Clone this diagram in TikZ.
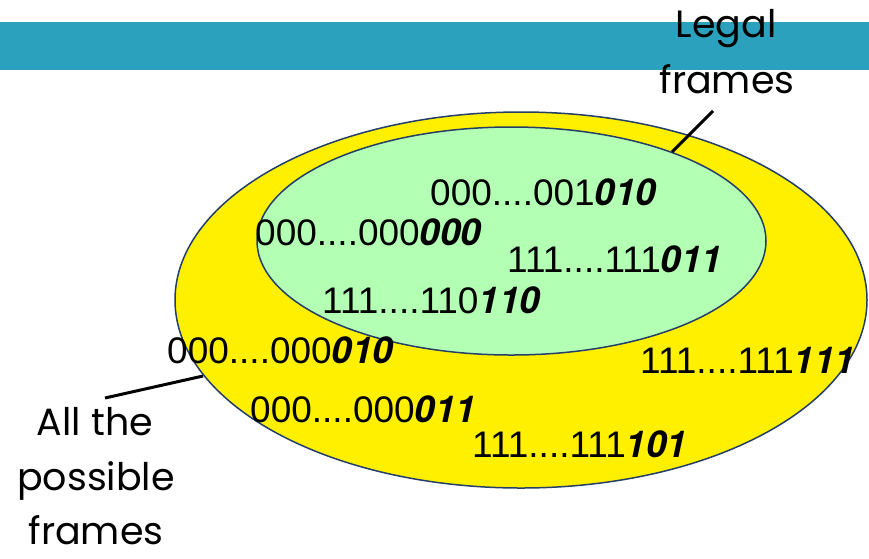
\documentclass[tikz,border=0pt]{standalone}
\usepackage{fontspec}
\setmainfont{Liberation Sans}
\newfontfamily\labelfont{Poppins}
\newfontfamily\tailfont{TeX Gyre Heros}
\definecolor{bandteal}{RGB}{44,161,190}
\definecolor{allyellow}{RGB}{255,240,0}
\definecolor{legalgreen}{RGB}{179,255,179}
\definecolor{rimblue}{RGB}{35,62,105}
% last three bits of each frame are set bold italic
\newcommand\emtail[1]{{\tailfont\bfseries\itshape #1}}

\begin{document}
\begin{tikzpicture}[x=1pt,y=1pt,
  code/.style={anchor=base west, inner sep=0pt, font=\fontsize{37}{40}\selectfont},
  caption/.style={anchor=base, inner sep=0pt, font=\labelfont\fontsize{38}{52}\selectfont},
  pointer/.style={line width=3pt, black},
  rim/.style={draw=rimblue, line width=1.5pt}]
\useasboundingbox (0,0) rectangle (869,-558);

% title band
\fill[bandteal] (0,-22) rectangle (869,-70);

% the two sets of frames
\path[rim, fill=allyellow] (521,-300) ellipse [x radius=346, y radius=188];
\path[rim, fill=legalgreen] (511.5,-241) ellipse [x radius=254.5, y radius=114];

% legal frames
\node[code] (c1) at (430,-205) {000....001\emtail{010}};
\node[code] (c2) at (255,-245) {000....000\emtail{000}};
\node[code] (c3) at (507,-272) {111....111\emtail{011}};
\node[code] (c4) at (322,-313) {111....110\emtail{110}};

% other frames
\node[code] (c5) at (167,-363) {000....000\emtail{010}};
\node[code] (c6) at (640,-373) {111....111\emtail{111}};
\node[code] (c7) at (250,-422) {000....000\emtail{011}};
\node[code] (c8) at (472,-457) {111....111\emtail{101}};

% captions
\node[caption] (legal1) at (726,-37) {Legal};
\node[caption] (legal2) at (727,-93) {frames};
\node[caption] (all1) at (95,-435) {All the};
\node[caption] (all2) at (96,-490) {possible};
\node[caption] (all3) at (96,-544) {frames};

% pointers from captions to the sets
\coordinate (legalstart) at (713,-111);
\coordinate (legaltip) at (672,-152);
\coordinate (allstart) at (105,-398);
\coordinate (alltip) at (203,-376);
\draw[pointer] (legalstart) -- (legaltip);
\draw[pointer] (allstart) -- (alltip);
\end{tikzpicture}
\end{document}
